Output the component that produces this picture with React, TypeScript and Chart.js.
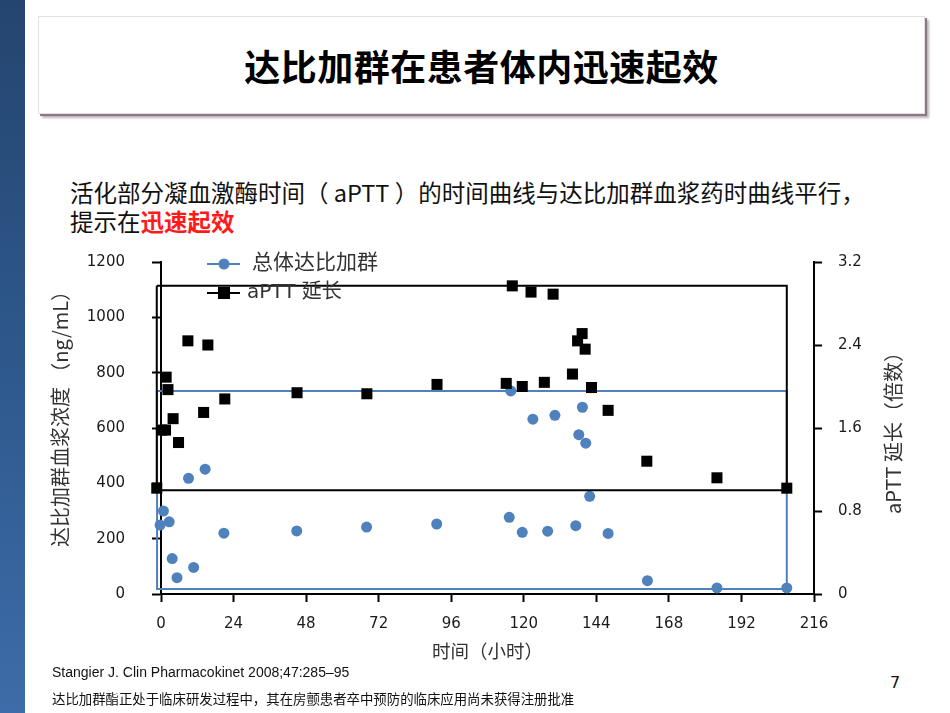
import React, { useEffect, useRef } from "react";
import { Chart, registerables } from "chart.js";

Chart.register(...registerables);

// Plasma concentration of dabigatran (ng/mL) against time (h)
const concTime = [-1.3, -0.3, 0.8, 2.7, 3.7, 5.3, 9.1, 10.8, 14.6, 20.8, 44.9, 68.0, 91.2, 115.2, 115.7, 119.5, 123.0, 127.9, 130.3, 137.2, 138.2, 139.4, 140.5, 141.8, 147.9, 160.9, 183.9, 207.0];
const concValue = [93, 249, 300, 261, 128, 59, 418, 96, 451, 220, 228, 242, 253, 277, 734, 223, 632, 227, 646, 247, 576, 675, 545, 353, 219, 48, 22, 22];

// aPTT prolongation (fold of baseline) against time (h)
const apttTime = [-1.4, 0.2, 1.5, 1.7, 2.3, 4.0, 5.8, 8.9, 14.1, 15.5, 21.1, 45.0, 68.1, 91.3, 114.2, 116.2, 119.5, 122.4, 126.8, 129.7, 136.1, 137.8, 139.3, 140.3, 142.4, 147.9, 160.7, 183.9, 207.0];
const apttValue = [1.02, 1.58, 1.58, 2.09, 1.97, 1.69, 1.46, 2.44, 1.75, 2.40, 1.88, 1.94, 1.93, 2.02, 2.03, 2.97, 2.0, 2.91, 2.04, 2.89, 2.12, 2.44, 2.51, 2.36, 1.99, 1.77, 1.28, 1.12, 1.02];

// Envelope boxes drawn around each series: [start, end] time and [low, high] value
const concFrameTime = [-1.3, 207.0];
const concFrameValue = [18, 734];
const apttFrameTime = [-1.4, 207.0];
const apttFrameValue = [1.0, 2.97];

// Axis ticks
const timeTicks = [0, 24, 48, 72, 96, 120, 144, 168, 192, 216];
const concTicks = [0, 200, 400, 600, 800, 1000, 1200];
const apttTicks = [0, 0.8, 1.6, 2.4, 3.2];

const legendLabels = ["总体达比加群", "aPTT 延长"];
const concAxisTitle = "达比加群血浆浓度 （ng/mL）";
const apttAxisTitle = "aPTT 延长（倍数）";
const timeAxisTitle = "时间（小时）";

const BLUE = "#4F81BD";
const CJK = "'Noto Sans CJK SC', 'DejaVu Sans', sans-serif";
const LATIN = "'DejaVu Sans', 'Noto Sans CJK SC', sans-serif";

const points = (xs: number[], ys: number[]) => xs.map((x, i) => ({ x, y: ys[i] }));
const frame = (xs: number[], ys: number[]) => [
  { x: xs[0], y: ys[1] },
  { x: xs[1], y: ys[1] },
  { x: xs[1], y: ys[0] },
  { x: xs[0], y: ys[0] },
  { x: xs[0], y: ys[1] },
];

const overlayPlugin = {
  id: "overlay",
  afterDraw(chart: any) {
    const { ctx, chartArea: a } = chart;
    ctx.save();

    // axis titles
    ctx.fillStyle = "#333";
    ctx.textAlign = "center";
    ctx.textBaseline = "middle";
    ctx.font = `20px ${CJK}`;
    ctx.save();
    ctx.translate(a.left - 101, a.top + 152);
    ctx.rotate(-Math.PI / 2);
    ctx.fillText(concAxisTitle, 0, 0);
    ctx.restore();

    ctx.save();
    ctx.translate(a.right + 79, a.top + 166);
    ctx.rotate(-Math.PI / 2);
    ctx.fillText(apttAxisTitle, 0, 0);
    ctx.restore();

    ctx.font = `18.5px ${CJK}`;
    ctx.fillText(timeAxisTitle, (a.left + a.right) / 2, a.bottom + 57);

    // legend
    const lx0 = a.left + 46;
    const lx1 = a.left + 79;
    const mx = a.left + 63;
    const tx = a.left + 90;
    const rows = [a.top + 2, a.top + 31];
    const ds = chart.data.datasets;

    ctx.textAlign = "left";

    // concentration entry
    ctx.strokeStyle = BLUE;
    ctx.lineWidth = 2;
    ctx.beginPath();
    ctx.moveTo(lx0, rows[0]);
    ctx.lineTo(lx1, rows[0]);
    ctx.stroke();
    ctx.fillStyle = ds[2].backgroundColor;
    ctx.beginPath();
    ctx.arc(mx, rows[0], 5.5, 0, Math.PI * 2);
    ctx.fill();
    ctx.fillStyle = "#333";
    ctx.font = `21px ${LATIN}`;
    ctx.fillText(legendLabels[0], tx + 1, rows[0]);

    // aPTT entry
    ctx.strokeStyle = "#000";
    ctx.beginPath();
    ctx.moveTo(lx0, rows[1]);
    ctx.lineTo(lx1, rows[1]);
    ctx.stroke();
    ctx.fillStyle = "#000";
    ctx.fillRect(mx - 6, rows[1] - 6, 12, 12);
    ctx.fillStyle = "#333";
    ctx.font = `20px ${LATIN}`;
    ctx.fillText(legendLabels[1], tx - 4, rows[1]);

    ctx.restore();
  },
};

function DualAxisChart() {
  const ref = useRef<HTMLCanvasElement | null>(null);

  useEffect(() => {
    if (!ref.current) return;
    const tickFont = { family: LATIN, size: 15 };
    const axisGrid = (len: number) => ({
      drawOnChartArea: false,
      drawTicks: true,
      tickLength: len,
      tickColor: "#000",
      tickWidth: 2,
    });
    // fixed box sizes so the plot area lands in a known place
    const fixVertical = (w: number) => (s: any) => {
      s.width = w;
      s.paddingTop = 0;
      s.paddingBottom = 0;
    };

    const chart = new Chart(ref.current, {
      type: "scatter",
      data: {
        datasets: [
          {
            label: legendLabels[1],
            data: points(apttTime, apttValue),
            yAxisID: "y1",
            pointStyle: "rect",
            pointRadius: 7.8,
            backgroundColor: "#000",
            borderColor: "#000",
            borderWidth: 0,
            showLine: false,
            clip: false,
            order: 0,
          },
          {
            label: "aPTT frame",
            data: frame(apttFrameTime, apttFrameValue),
            yAxisID: "y1",
            showLine: true,
            pointRadius: 0,
            borderColor: "#000",
            borderWidth: 2,
            clip: false,
            order: 1,
          },
          {
            label: legendLabels[0],
            data: points(concTime, concValue),
            yAxisID: "y",
            pointStyle: "circle",
            pointRadius: 5.5,
            backgroundColor: BLUE,
            borderColor: BLUE,
            borderWidth: 0,
            showLine: false,
            clip: false,
            order: 2,
          },
          {
            label: "conc frame",
            data: frame(concFrameTime, concFrameValue),
            yAxisID: "y",
            showLine: true,
            pointRadius: 0,
            borderColor: BLUE,
            borderWidth: 2,
            clip: false,
            order: 3,
          },
        ],
      },
      options: {
        animation: false,
        responsive: false,
        devicePixelRatio: 1,
        layout: { padding: { top: 22, left: 0, right: 0, bottom: 0 } },
        plugins: { legend: { display: false }, tooltip: { enabled: false } },
        scales: {
          x: {
            type: "linear",
            min: timeTicks[0],
            max: timeTicks[timeTicks.length - 1],
            afterBuildTicks: (s: any) => {
              s.ticks = timeTicks.map((v) => ({ value: v }));
            },
            afterFit: (s: any) => {
              s.height = 76;
            },
            ticks: {
              font: tickFont,
              color: "#1a1a1a",
              padding: 13,
              maxRotation: 0,
              autoSkip: false,
              callback: (v: any) => String(v),
            },
            grid: axisGrid(8),
            border: { display: true, color: "#000", width: 2 },
          },
          y: {
            type: "linear",
            position: "left",
            min: concTicks[0],
            max: concTicks[concTicks.length - 1],
            afterBuildTicks: (s: any) => {
              s.ticks = concTicks.map((v) => ({ value: v }));
            },
            afterFit: fixVertical(161),
            ticks: { font: tickFont, color: "#1a1a1a", padding: 27, callback: (v: any) => String(v) },
            grid: axisGrid(9),
            border: { display: true, color: "#000", width: 2 },
          },
          y1: {
            type: "linear",
            position: "right",
            min: apttTicks[0],
            max: apttTicks[apttTicks.length - 1],
            afterBuildTicks: (s: any) => {
              s.ticks = apttTicks.map((v) => ({ value: v }));
            },
            afterFit: fixVertical(136),
            ticks: {
              font: tickFont,
              color: "#1a1a1a",
              padding: 16,
              callback: (v: any) => (Number(v) === 0 ? "0" : Number(v).toFixed(1)),
            },
            grid: axisGrid(8),
            border: { display: true, color: "#000", width: 2 },
          },
        },
      },
      plugins: [overlayPlugin],
    } as any);

    return () => chart.destroy();
  }, []);

  return (
    <canvas
      ref={ref}
      width={950}
      height={430}
      style={{ position: "absolute", left: 0, top: 240, width: 950, height: 430 }}
    />
  );
}

export default function App() {
  return (
    <div
      style={{
        position: "absolute",
        left: 0,
        top: 0,
        width: 950,
        height: 713,
        overflow: "hidden",
        background: "#fff",
        fontFamily: CJK,
      }}
    >
      {/* side band */}
      <div
        style={{
          position: "absolute",
          left: 0,
          top: 0,
          width: 25,
          height: 713,
          background: "linear-gradient(to bottom, #24456f 0%, #2f5a8f 55%, #3d6ca8 100%)",
        }}
      />

      {/* title panel */}
      <div
        style={{
          position: "absolute",
          left: 38,
          top: 16,
          width: 885,
          height: 96,
          background: "#fff",
          border: "1px solid #e4e0e3",
          boxShadow: "2px 2px 0 #8c7884, 4px 4px 2px rgba(140,115,130,0.55)",
          display: "flex",
          alignItems: "center",
          justifyContent: "center",
        }}
      >
        <span style={{ fontSize: 36, fontWeight: 700, color: "#000", letterSpacing: 0.5 }}>
          达比加群在患者体内迅速起效
        </span>
      </div>

      {/* lead text */}
      <div
        style={{
          position: "absolute",
          left: 70,
          top: 178,
          fontSize: 23.5,
          lineHeight: "29px",
          color: "#111",
          whiteSpace: "nowrap",
        }}
      >
        <div>活化部分凝血激酶时间（ aPTT ）的时间曲线与达比加群血浆药时曲线平行，</div>
        <div>
          提示在<span style={{ color: "#ff1a1a", fontWeight: 700 }}>迅速起效</span>
        </div>
      </div>

      <DualAxisChart />

      {/* footer */}
      <div
        style={{
          position: "absolute",
          left: 52,
          top: 663,
          fontFamily: "'Liberation Sans', Arial, sans-serif",
          fontSize: 14,
          lineHeight: "18px",
          color: "#111",
          whiteSpace: "nowrap",
        }}
      >
        Stangier J. Clin Pharmacokinet 2008;47:285–95
      </div>
      <div
        style={{
          position: "absolute",
          left: 52,
          top: 689,
          fontSize: 13.4,
          lineHeight: "18px",
          color: "#111",
          whiteSpace: "nowrap",
        }}
      >
        达比加群酯正处于临床研发过程中，其在房颤患者卒中预防的临床应用尚未获得注册批准
      </div>
      <div
        style={{
          position: "absolute",
          left: 890,
          top: 673,
          fontFamily: "'DejaVu Sans', sans-serif",
          fontSize: 16,
          lineHeight: "20px",
          color: "#111",
        }}
      >
        7
      </div>
    </div>
  );
}
